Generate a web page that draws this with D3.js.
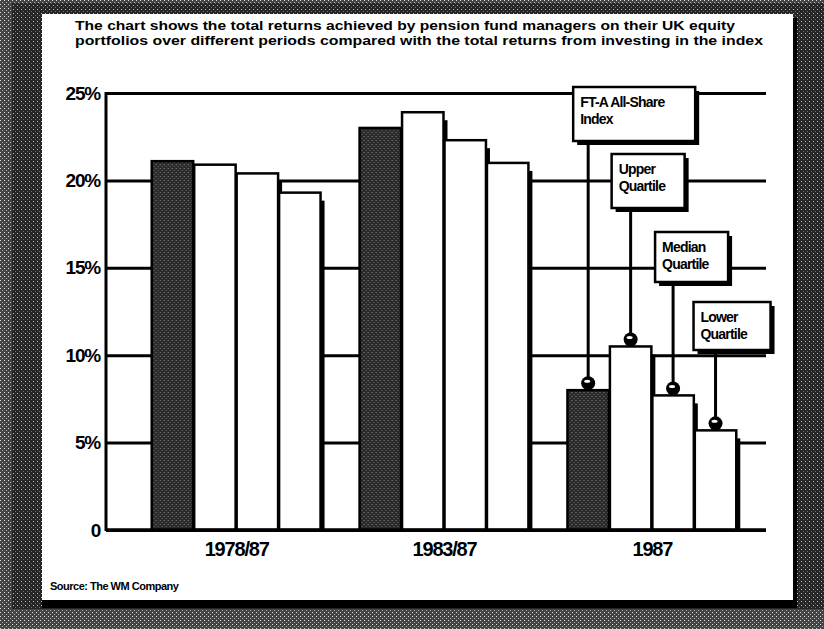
<!DOCTYPE html>
<html><head><meta charset="utf-8">
<script src="https://cdn.jsdelivr.net/npm/d3@7"></script>
<style>
html,body{margin:0;padding:0;background:#fff;}
svg{display:block;}
text{font-family:"Liberation Sans Narrow","Liberation Sans","DejaVu Sans Condensed",sans-serif;font-weight:bold;fill:#000;}
</style></head>
<body>
<script>
// ---- data ----
const periods = ["1978/87", "1983/87", "1987"];
const series = ["FT-A All-Share Index", "Upper Quartile", "Median Quartile", "Lower Quartile"];
const ftaIndex = [21.1, 23.0, 8.0];
const upperQuartile = [20.9, 23.9, 10.5];
const medianQuartile = [20.4, 22.3, 7.7];
const lowerQuartile = [19.3, 21.0, 5.7];
const yTicks = [0, 5, 10, 15, 20, 25];
const titleLines = [
  "The chart shows the total returns achieved by pension fund managers on their UK equity",
  "portfolios over different periods compared with the total returns from investing in the index"
];
const legendLines = [["FT-A All-Share", "Index"], ["Upper", "Quartile"], ["Median", "Quartile"], ["Lower", "Quartile"]];
const sourceText = "Source: The WM Company";

const seriesValues = [ftaIndex, upperQuartile, medianQuartile, lowerQuartile];

const W = 824, H = 629;
const svg = d3.select("body").append("svg").attr("width", W).attr("height", H);
const defs = svg.append("defs");

// stipple textures
const p1 = defs.append("pattern").attr("id", "stip").attr("width", 4).attr("height", 4).attr("patternUnits", "userSpaceOnUse");
p1.append("rect").attr("width", 4).attr("height", 4).attr("fill", "#444");
p1.append("rect").attr("x", 0).attr("y", 0).attr("width", 1).attr("height", 1).attr("fill", "#e0e0e0");
p1.append("rect").attr("x", 2).attr("y", 2).attr("width", 1).attr("height", 1).attr("fill", "#b0b0b0");
const p2 = defs.append("pattern").attr("id", "stipDark").attr("width", 4).attr("height", 4).attr("patternUnits", "userSpaceOnUse");
p2.append("rect").attr("width", 4).attr("height", 4).attr("fill", "#262626");
p2.append("rect").attr("x", 1).attr("y", 1).attr("width", 1).attr("height", 1).attr("fill", "#bdbdbd");
p2.append("rect").attr("x", 3).attr("y", 3).attr("width", 1).attr("height", 1).attr("fill", "#707070");
const p3 = defs.append("pattern").attr("id", "barStip").attr("width", 4).attr("height", 4).attr("patternUnits", "userSpaceOnUse");
p3.append("rect").attr("width", 4).attr("height", 4).attr("fill", "#2a2a2a");
p3.append("rect").attr("x", 0).attr("y", 0).attr("width", 1).attr("height", 1).attr("fill", "#8a8a8a");
p3.append("rect").attr("x", 2).attr("y", 2).attr("width", 1).attr("height", 1).attr("fill", "#6a6a6a");

// frame
svg.append("rect").attr("width", W).attr("height", H).attr("fill", "url(#stip)");
svg.append("rect").attr("x", 12).attr("y", 3).attr("width", 812).attr("height", 606).attr("fill", "url(#stipDark)");
const panel = {x: 42, y: 14, w: 751, h: 586};
svg.append("rect").attr("x", panel.x).attr("y", panel.y + 4).attr("width", panel.w + 4).attr("height", panel.h + 4).attr("fill", "#000");
svg.append("rect").attr("x", panel.x).attr("y", panel.y).attr("width", panel.w).attr("height", panel.h).attr("fill", "#fff");

// title
svg.selectAll("text.title").data(titleLines).join("text")
  .attr("class", "title")
  .attr("x", 75).attr("y", (d, i) => 30 + i * 15)
  .attr("font-size", 13)
  .attr("textLength", (d, i) => i === 0 ? 660 : 688)
  .attr("lengthAdjust", "spacingAndGlyphs")
  .text(d => d);

// scales
const plot = {left: 106, right: 766, top: 93, bottom: 530};
const y = d3.scaleLinear().domain([0, 25]).range([plot.bottom, plot.top]);
const x0 = d3.scaleBand().domain(periods).range([106, 783]).paddingInner(0.183).paddingOuter(0.22);
const x1 = d3.scaleBand().domain(series).range([0, x0.bandwidth()]).padding(0);

// gridlines
svg.append("g").attr("transform", `translate(${plot.left},0)`)
  .call(d3.axisRight(y).tickValues(yTicks).tickSize(plot.right - plot.left).tickFormat(""))
  .call(g => g.select(".domain").remove())
  .call(g => g.selectAll("line").attr("stroke", "#000").attr("stroke-width", 3));

// y axis
svg.append("g").attr("transform", `translate(${plot.left},0)`)
  .call(d3.axisLeft(y).tickValues(yTicks).tickSize(0).tickPadding(6).tickFormat(d => d === 0 ? "0" : d + "%"))
  .call(g => g.select(".domain").attr("stroke", "#000").attr("stroke-width", 3).attr("d", `M0,${plot.top - 1}V${plot.bottom + 1}`))
  .call(g => g.selectAll("text").attr("font-size", 19).attr("letter-spacing", -1.2).attr("font-family", null).attr("fill", "#000"));

// bars
const rows = [];
periods.forEach((p, pi) => series.forEach((s, si) => rows.push({period: p, series: s, si, value: seriesValues[si][pi]})));
const bw = x1.bandwidth() - 1;
const groups = svg.append("g").selectAll("g").data(periods).join("g")
  .attr("transform", d => `translate(${x0(d)},0)`);
groups.each(function(p) {
  const g = d3.select(this);
  const data = rows.filter(r => r.period === p);
  g.selectAll("rect.sh").data(data).join("rect").attr("class", "sh")
    .attr("x", d => x1(d.series) + 4).attr("y", d => y(d.value) + 8)
    .attr("width", bw).attr("height", d => y(0) - y(d.value) - 8)
    .attr("fill", "#000");
  data.forEach(d => {
    g.append("rect")
      .attr("x", x1(d.series)).attr("y", y(d.value))
      .attr("width", bw).attr("height", y(0) - y(d.value))
      .attr("fill", d.si === 0 ? "url(#barStip)" : "#fff")
      .attr("stroke", "#000").attr("stroke-width", 2.5);
  });
});

// baseline
svg.append("line").attr("x1", plot.left).attr("x2", plot.right).attr("y1", y(0)).attr("y2", y(0))
  .attr("stroke", "#000").attr("stroke-width", 3.5);

// x labels
svg.append("g").attr("transform", `translate(0,${y(0)})`)
  .call(d3.axisBottom(x0).tickSize(0).tickPadding(12))
  .call(g => g.select(".domain").remove())
  .call(g => g.selectAll("text").attr("font-size", 20).attr("letter-spacing", -1.2).attr("font-family", null).attr("fill", "#000"));

// callout labels for the 1987 group
const lastP = periods[periods.length - 1];
const boxes = [
  {dx: -15, top: 87, w: 122, h: 54},
  {dx: -19, top: 154, w: 73, h: 54},
  {dx: -18, top: 232, w: 73, h: 50},
  {dx: -22, top: 302, w: 77, h: 48}
];
const ann = svg.append("g");
series.forEach((s, si) => {
  const cx = x0(lastP) + x1(s) + bw / 2;
  const v = seriesValues[si][periods.length - 1];
  const b = boxes[si];
  ann.append("line").attr("x1", cx).attr("x2", cx).attr("y1", b.top + b.h).attr("y2", y(v) - 8)
    .attr("stroke", "#000").attr("stroke-width", 3);
  ann.append("rect").attr("x", cx + b.dx + 4).attr("y", b.top + 4).attr("width", b.w).attr("height", b.h).attr("fill", "#000");
  ann.append("rect").attr("x", cx + b.dx).attr("y", b.top).attr("width", b.w).attr("height", b.h)
    .attr("fill", "#fff").attr("stroke", "#000").attr("stroke-width", 2.5);
  legendLines[si].forEach((t, li) => {
    ann.append("text").attr("x", cx + b.dx + 7).attr("y", b.top + 20 + li * 17)
      .attr("font-size", 14).attr("letter-spacing", -0.8).text(t);
  });
  ann.append("circle").attr("cx", cx).attr("cy", y(v) - 7).attr("r", 7).attr("fill", "#000");
  ann.append("ellipse").attr("cx", cx - 1).attr("cy", y(v) - 9).attr("rx", 3).attr("ry", 1.5).attr("fill", "#fff");
});

// source
svg.append("text").attr("x", 50).attr("y", 590).attr("font-size", 11).attr("letter-spacing", -0.5).text(sourceText);
</script>
</body></html>
